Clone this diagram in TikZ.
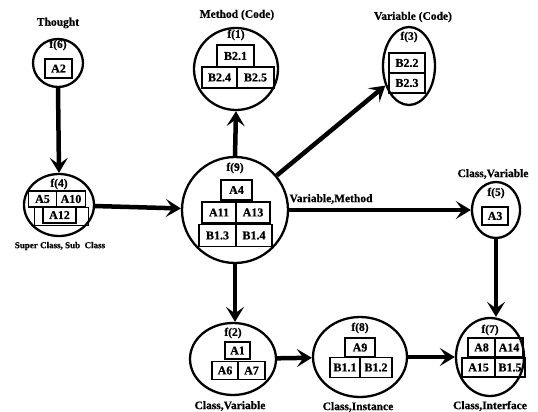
\documentclass[tikz,border=0pt]{standalone}
\usepackage{fontspec}
\setmainfont{Liberation Serif}[BoldFeatures={FakeBold=0.6}]
\usetikzlibrary{shapes.geometric,arrows.meta}
\tikzset{
  fnode/.style={draw, ellipse, line width=2.3pt, inner sep=0pt},
  cell/.style={draw, line width=1.3pt, inner sep=0pt, font=\bfseries\fontsize{12}{12}\selectfont},
  fname/.style={inner sep=0pt, font=\bfseries\fontsize{11.5}{12}\selectfont},
  tag/.style={inner sep=0pt, font=\bfseries\fontsize{11.5}{12}\selectfont},
  flow/.style={line width=4.5pt, -{Stealth[length=15pt,width=18pt,inset=6.5pt]}}
}
\begin{document}
\begin{tikzpicture}[x=1pt,y=-1pt]
\useasboundingbox (0,0) rectangle (538,412);

% ---- f(6): Thought
\node[fnode, minimum width=50pt, minimum height=48pt] (f6) at (58,63) {};
\node[tag] (t6) at (58,23) {Thought};
\node[fname] (n6) at (58,45) {f(6)};
\node[cell, minimum width=27pt, minimum height=19pt] (a2) at (58.5,68.5) {A2};

% ---- f(4): Super Class, Sub Class
\node[fnode, minimum width=70pt, minimum height=62pt] (f4) at (59,205) {};
\node[fname] (n4) at (59,184) {f(4)};
\draw[line width=0.5pt] (34,207) rectangle (88,225);
\node[cell, minimum width=28pt, minimum height=16pt] (a5) at (42.5,199) {A5};
\node[cell, minimum width=29pt, minimum height=16pt] (a10) at (71,199) {A10};
\node[cell, minimum width=33pt, minimum height=16pt] (a12) at (59.5,215) {A12};
\node[tag, font=\bfseries\fontsize{9}{10}\selectfont] (t4) at (60,246) {Super Class, Sub\ \ Class};

% ---- f(9)
\node[fnode, minimum width=106pt, minimum height=106pt] (f9) at (235,210) {};
\node[fname] (n9) at (235,168) {f(9)};
\node[cell, minimum width=31pt, minimum height=20pt] (a4) at (236.5,190) {A4};
\node[cell, minimum width=34pt, minimum height=21pt] (a11) at (219,212.5) {A11};
\node[cell, minimum width=34pt, minimum height=21pt] (a13) at (253,212.5) {A13};
\node[cell, minimum width=37pt, minimum height=22pt] (b13) at (217.5,235.5) {B1.3};
\node[cell, minimum width=36pt, minimum height=22pt] (b14) at (254,235.5) {B1.4};
\node[tag] (t9) at (331,199) {Variable,Method};

% ---- f(1): Method (Code)
\node[fnode, minimum width=84pt, minimum height=82pt] (f1) at (236,69) {};
\node[tag] (t1) at (237,15) {Method (Code)};
\node[fname] (n1) at (236,35) {f(1)};
\node[cell, minimum width=37pt, minimum height=22pt] (b21) at (235.5,56) {B2.1};
\node[cell, minimum width=35pt, minimum height=21pt] (b24) at (219.5,77.5) {B2.4};
\node[cell, minimum width=37pt, minimum height=21pt] (b25) at (255.5,77.5) {B2.5};

% ---- f(3): Variable (Code)
\node[fnode, minimum width=52pt, minimum height=78pt] (f3) at (409,66) {};
\node[tag] (t3) at (413,17) {Variable (Code)};
\node[fname] (n3) at (409,37) {f(3)};
\node[cell, minimum width=36pt, minimum height=20pt] (b22) at (407,63) {B2.2};
\node[cell, minimum width=36pt, minimum height=20pt] (b23) at (407,83) {B2.3};

% ---- f(5): Class,Variable
\node[fnode, minimum width=48pt, minimum height=56pt] (f5) at (496,210) {};
\node[tag] (t5) at (493,174) {Class,Variable};
\node[fname] (n5) at (496,193) {f(5)};
\node[cell, minimum width=26pt, minimum height=18pt] (a3) at (495,216) {A3};

% ---- f(7): Class,Interface
\node[fnode, minimum width=68pt, minimum height=78pt] (f7) at (490,357) {};
\node[fname] (n7) at (490,330) {f(7)};
\node[cell, minimum width=27pt, minimum height=19pt] (a8) at (481.5,347.5) {A8};
\node[cell, minimum width=28pt, minimum height=19pt] (a14) at (509,347.5) {A14};
\node[cell, minimum width=33pt, minimum height=19pt] (a15) at (478.5,367.5) {A15};
\node[cell, minimum width=30pt, minimum height=19pt] (b15) at (510,367.5) {B1.5};
\node[tag] (t7) at (490,406) {Class,Interface};

% ---- f(8): Class,Instance
\node[fnode, minimum width=94pt, minimum height=80pt] (f8) at (360,357) {};
\node[fname] (n8) at (360,328) {f(8)};
\node[cell, minimum width=30pt, minimum height=19pt] (a9) at (360,347.5) {A9};
\node[cell, minimum width=30pt, minimum height=20pt] (b11) at (345,367.5) {B1.1};
\node[cell, minimum width=32pt, minimum height=20pt] (b12) at (376,367.5) {B1.2};
\node[tag] (t8) at (358,407) {Class,Instance};

% ---- f(2): Class,Variable
\node[fnode, minimum width=86pt, minimum height=72pt] (f2) at (233,359) {};
\node[fname] (n2) at (233,333) {f(2)};
\node[cell, minimum width=25pt, minimum height=17pt] (a1) at (237.5,350.5) {A1};
\node[cell, minimum width=26pt, minimum height=18pt] (a6) at (225,370.5) {A6};
\node[cell, minimum width=27pt, minimum height=18pt] (a7) at (251.5,370.5) {A7};
\node[tag] (t2) at (230,406) {Class,Variable};

% ---- connectors
\draw[flow] (f6.south) -- (f4.north);
\draw[flow] (f4) -- (f9);
\draw[flow] (f9.north) -- (f1.south);
\draw[flow] (f9) -- (f3);
\draw[flow] (f9) -- (f5);
\draw[flow] (f9.south) -- (f9.south |- f2.north);
\draw[flow] (f5.south) -- (f5.south |- f7.north);
\draw[flow] (f2) -- (f8);
\draw[flow] (f8) -- (f7);
\end{tikzpicture}
\end{document}
